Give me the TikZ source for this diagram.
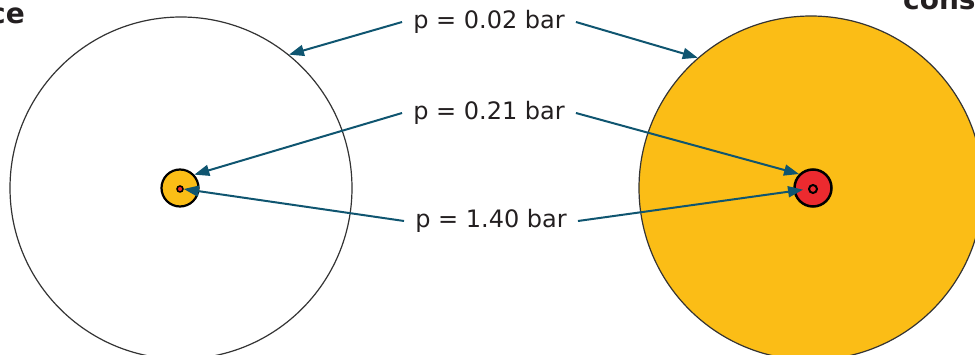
\documentclass[tikz,border=0pt]{standalone}
\usepackage{fontspec}
\setmainfont{DejaVu Sans}
\usetikzlibrary{arrows.meta}
\definecolor{arrowc}{HTML}{0F5570}
\definecolor{gold}{HTML}{FBBD16}
\definecolor{redc}{HTML}{EC2A2F}
\definecolor{txt}{HTML}{231F20}
\begin{document}
\begin{tikzpicture}[x=1pt,y=-1pt,
  lab/.style={font=\fontsize{24}{26}\selectfont, text=txt, inner xsep=11pt, inner ysep=0pt},
  conn/.style={draw=arrowc, line width=2pt, -{Triangle[length=15pt,width=11pt]}},
  title/.style={font=\bfseries\fontsize{28}{30}\selectfont, text=txt, inner sep=0pt},
  bigc/.style={circle, draw=black!80, line width=1.2pt, inner sep=0pt, minimum size=#1},
  smallc/.style={circle, draw=black, inner sep=0pt, minimum size=#1}]
\useasboundingbox (0,0) rectangle (975,355);
\clip (0,0) rectangle (975,355);
% big circles
\node[bigc=342pt] (lbig) at (181,188) {};
\node[bigc=344pt, fill=gold] (rbig) at (811,188) {};
% small circles
\node[smallc=37pt, fill=gold, line width=2.2pt] (lsmall) at (180,188) {};
\node[smallc=6pt, fill=redc, line width=1.5pt] (ldot) at (180,189) {};
\node[smallc=37pt, fill=redc, line width=2.5pt] (rsmall) at (813,188) {};
\node[smallc=8pt, fill=redc, line width=2pt] (rdot) at (813,189) {};
% titles
\node[title, anchor=base east] (tl) at (25,24) {ce};
\node[title, anchor=base west] (tr) at (903,10) {cons};
% labels
\node[lab] (l1) at (489,22) {p = 0.02 bar};
\node[lab] (l2) at (489,113) {p = 0.21 bar};
\node[lab] (l3) at (491,221) {p = 1.40 bar};
% connectors
\draw[conn] (l1.west) -- (lbig.51);
\draw[conn] (l1.east) -- (rbig.131);
\draw[conn] (l2.west) -- (lsmall.43);
\draw[conn] (l2.east) -- (rsmall.135);
\draw[conn] (l3.west) -- (ldot.east);
\draw[conn, shorten >=5pt] (l3.east) -- (rdot.west);
\end{tikzpicture}
\end{document}
